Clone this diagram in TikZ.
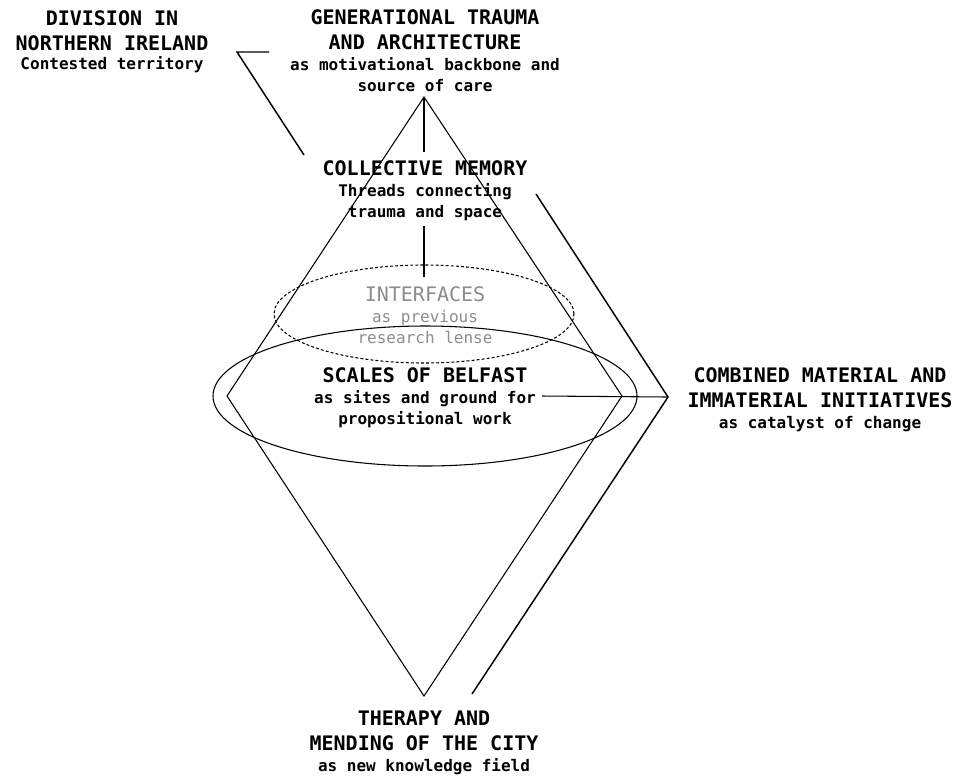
\documentclass[tikz,border=0pt]{standalone}
\usepackage{fontspec}
\setmonofont{DejaVu Sans Mono}
\usetikzlibrary{shapes.geometric}

\newcommand{\headfont}{\ttfamily\bfseries\fontsize{15}{15.75}\selectfont}
\newcommand{\subfont}{\fontsize{12}{15.75}\selectfont}

\tikzset{
    title/.style={font=\headfont, align=center, inner sep=0pt, anchor=base},
    faint/.style={title, font=\ttfamily\mdseries\fontsize{15}{15.75}\selectfont, text=black!45},
    thread/.style={line width=0.8pt},
    bracket/.style={line width=1.1pt}
}

\begin{document}
\begin{tikzpicture}[x=0.75pt, y=-0.75pt]

    \useasboundingbox (0,0) rectangle (955,776);

    % Titles (placed at the baseline of their last line)
    \node[title] (division) at (112,69)
        {DIVISION IN\\[3pt] NORTHERN IRELAND\\[-1.5pt] \subfont Contested territory};

    \node[title] (trauma) at (425,91)
        {GENERATIONAL TRAUMA\\[3pt] AND ARCHITECTURE\\[-0.4pt]
         \subfont as motivational backbone and\\ \subfont source of care};

    \node[title] (memory) at (425,217)
        {COLLECTIVE MEMORY\\[-0.4pt] \subfont Threads connecting\\ \subfont trauma and space};

    \node[faint] (interfaces) at (425,343)
        {INTERFACES\\[-0.4pt] \subfont as previous\\ \subfont research lense};

    \node[title] (belfast) at (425,424)
        {SCALES OF BELFAST\\[-0.4pt] \subfont as sites and ground for\\ \subfont propositional work};

    \node[title] (initiatives) at (820,428)
        {COMBINED MATERIAL AND\\[3pt] IMMATERIAL INITIATIVES\\[-0.4pt] \subfont as catalyst of change};

    \node[title] (therapy) at (424,771)
        {THERAPY AND\\[3pt] MENDING OF THE CITY\\[-0.4pt] \subfont as new knowledge field};

    % Diamond
    \coordinate (apex) at (424,97);
    \coordinate (west_pt) at (227,396);
    \coordinate (east_pt) at (622,396);
    \coordinate (foot) at (424,696);
    \draw[thread] (apex) -- (west_pt) -- (foot) -- (east_pt) -- cycle;

    % Ellipse with dashes
    \node[draw, thread,
        ellipse,
        dash pattern=on 2.2pt off 1.6pt,
        inner sep=0pt,
        minimum width=225pt,
        minimum height=73.5pt] (lens_ell) at (424,314){};

    % Ellipse
    \node[draw, thread,
        ellipse,
        inner sep=0pt,
        minimum width=318pt,
        minimum height=105pt] (belfast_ell) at (425,396){};

    % Threads
    \coordinate (memory_top) at (424,152);
    \coordinate (memory_low) at (424,226);
    \coordinate (lens_top) at (424,277);
    \coordinate (belfast_end) at (542,396);
    \draw[thread] (apex) -- (memory_top);
    \draw[thread] (memory_low) -- (lens_top);

    % Brackets
    \coordinate (div_a) at (269,52);
    \coordinate (div_b) at (237,52);
    \coordinate (div_c) at (304,155);
    \draw[bracket] (div_a) -- (div_b) -- (div_c);

    \coordinate (ini_a) at (536,194);
    \coordinate (ini_b) at (668,397);
    \coordinate (ini_c) at (472,694);
    \draw[bracket] (ini_a) -- (ini_b) -- (ini_c);
    \draw[thread] (belfast_end) -- (ini_b);

\end{tikzpicture}
\end{document}
